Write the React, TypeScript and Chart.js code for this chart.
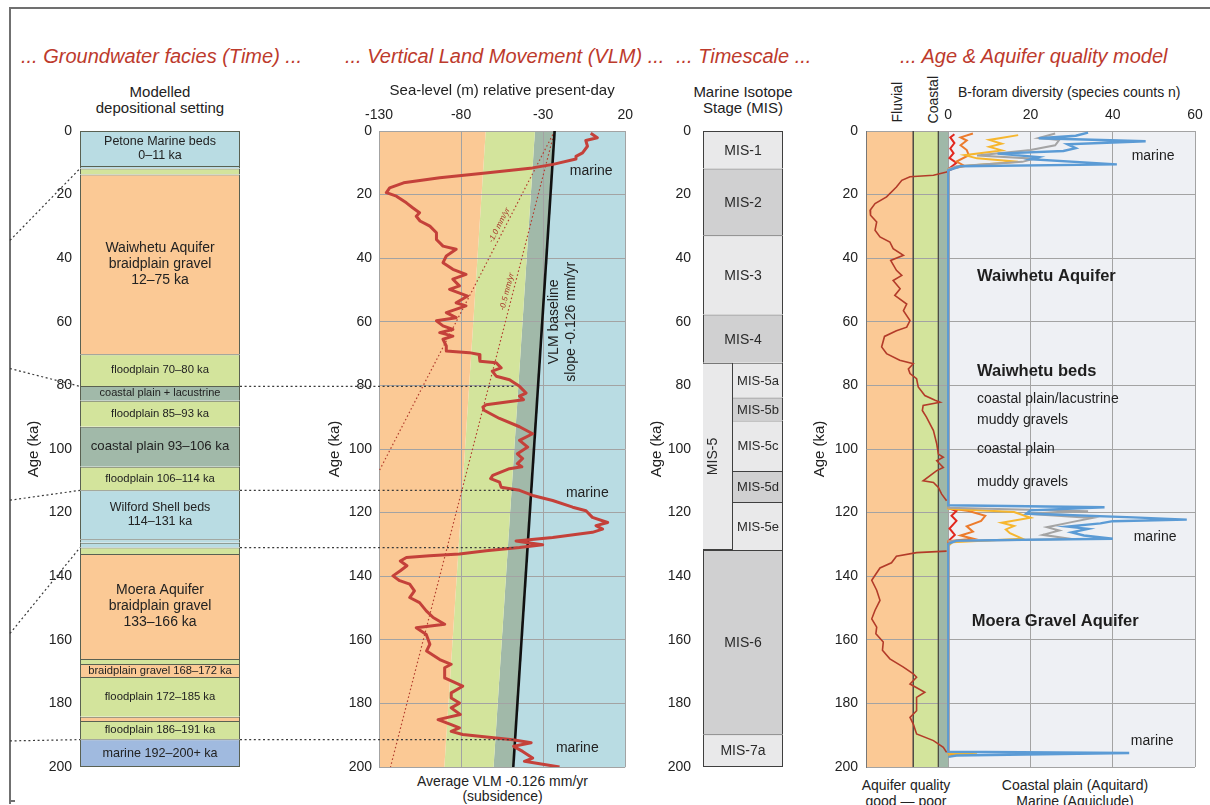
import React, { useEffect, useRef } from 'react';
import { Chart, registerables } from 'chart.js';

Chart.register(...registerables);

const FONT = "'Liberation Sans', Arial, Helvetica, sans-serif";
Chart.defaults.font.family = FONT;
Chart.defaults.color = '#222';

/* ============================ DATA ============================ */

// Panel 1 - modelled depositional setting (ka)
const faciesStart = [0, 11, 11.8, 13.7, 70.2, 80.2, 84.8, 93, 105.6, 113, 128.4, 129.5, 131, 133, 166, 167.6, 171.7, 184.2, 185.5, 191.3];
const faciesEnd = [11, 11.8, 13.7, 70.2, 80.2, 84.8, 93, 105.6, 113, 128.4, 129.5, 131, 133, 166, 167.6, 171.7, 184.2, 185.5, 191.3, 200];
const faciesType = ['shell', 'shell', 'floodplain', 'gravel', 'floodplain', 'coastal', 'floodplain', 'coastal', 'floodplain', 'shell', 'shell', 'shell', 'floodplain', 'gravel', 'floodplain', 'gravel', 'floodplain', 'gravel', 'floodplain', 'marine'];
const faciesLabels: string[][] = [
  ['Petone Marine beds', '0–11 ka'], [], [],
  ['Waiwhetu Aquifer', 'braidplain gravel', '12–75 ka'],
  ['floodplain 70–80 ka'], ['coastal plain + lacustrine'], ['floodplain 85–93 ka'],
  ['coastal plain 93–106 ka'], ['floodplain 106–114 ka'],
  ['Wilford Shell beds', '114–131 ka'], [], [], [],
  ['Moera Aquifer', 'braidplain gravel', '133–166 ka'], [],
  ['braidplain gravel 168–172 ka'], ['floodplain 172–185 ka'], [],
  ['floodplain 186–191 ka'], ['marine 192–200+ ka'],
];

// dotted correlation lines: age where they leave the frame / meet the column
const connectorFrameAge = [34.4, 74.7, 116.1, 158, 191.8];
const connectorColumnAge = [11.8, 80.3, 113, 131, 191.4];
const connectorToVLM = [false, true, true, true, true];

// Panel 2 - sea level (m) relative present-day vs age (ka)
const seaLevelRecord: [number, number][] = [
  [0.7, -1], [2.1, 3], [3, -4], [4.8, -3], [6.9, -6], [8, -10], [8.8, -10], [10.5, -24], [11.6, -36.5],
  [13.2, -65], [14.7, -93], [16.3, -115], [17.9, -123.5], [19.4, -125.5], [20.5, -119.4], [22.6, -113.3],
  [24.2, -109.3], [25.7, -105.3], [26.8, -107.3], [28.3, -105], [29.9, -99], [32, -95], [34.1, -95],
  [36.2, -91], [37.2, -83], [39.3, -89], [41.4, -91], [43.5, -85], [45.1, -77], [46.6, -85], [48.7, -81],
  [49.8, -87], [51.9, -76], [54, -83], [55, -77], [57.1, -89], [58.7, -83], [59.7, -95], [61.3, -91],
  [62.4, -85], [63.4, -93], [64.5, -85], [65.5, -91], [67.6, -89], [69.2, -89], [69.7, -75], [70.3, -69],
  [72.4, -68.5], [72.9, -58.6], [74.5, -55.6], [75.5, -61], [77.1, -58.6], [78.2, -50.5], [80.3, -44.4],
  [82.4, -40.4], [83.4, -44.4], [84.5, -42], [86.1, -64.7], [86.8, -66.7], [87.8, -66], [90.4, -56.6],
  [93, -44.4], [95.2, -36.4], [97.3, -44.4], [99.4, -39.4], [101.5, -45.7], [103, -42.5], [104.6, -45.7],
  [105.6, -43], [106.2, -50.5], [108.3, -60.7], [109.3, -62], [110.4, -56.6], [112, -55.6], [113, -44.4],
  [114.6, -36.4], [116.2, -24.2], [118.3, -12], [119.4, -3.9], [121.5, 0], [123.1, 9.3], [124.1, 2.2],
  [125.2, 6.2], [126.2, 0], [127.8, -24.2], [128.9, -46.5], [129.4, -40.4], [130.1, -30.3], [131, -44.4],
  [132, -64.7], [133, -81], [133.6, -99.2], [134.1, -113.3], [135.2, -117], [136.7, -113], [138.3, -117],
  [139.9, -121.5], [141.4, -117.4], [142.5, -111.3], [144.6, -108.4], [146.7, -111.3], [148.3, -105.3],
  [150.9, -101.2], [153, -97], [155.1, -90], [156.2, -107.3], [158.3, -101.2], [161.4, -99], [163.5, -101],
  [166.2, -93], [167.7, -86], [168.8, -90], [172, -90], [174.6, -79], [176.7, -86], [178.3, -86],
  [179.9, -81], [181.4, -86], [183.5, -80.5], [185.1, -94], [186.7, -86], [187.7, -81], [188.8, -86],
  [189.8, -79], [191.4, -48.5], [192.4, -37.3], [193.5, -48], [195.1, -42.5], [197.2, -36.4],
  [198.2, -41.4], [200, -20],
];
const edgeAges = [0, 200];
const fluvialEdge = [-65, -90.2];
const coastalEdge = [-35, -60.2];
const vlmBaseline = [-23, -48.2];
const vlmTicks = [-130, -80, -30, 20];
const rateNames = ['-1.0 mm/yr', '-0.5 mm/yr'];
const rate10Line: [number, number][] = [[0, -23], [107, -130]];
const rate05Line: [number, number][] = [[0, -23], [200, -123]];

// Panel 3 - Marine Isotope Stages (ka)
const misStages = ['MIS-1', 'MIS-2', 'MIS-3', 'MIS-4', 'MIS-5a', 'MIS-5b', 'MIS-5c', 'MIS-5d', 'MIS-5e', 'MIS-6', 'MIS-7a'];
const misStart = [0, 11.8, 32.8, 57.7, 72.9, 83.8, 91, 106.9, 116.7, 131.8, 189.7];
const misEnd = [11.8, 32.8, 57.7, 72.9, 83.8, 91, 106.9, 116.7, 131.8, 189.7, 200];
const misGlacial = [false, true, false, true, false, true, false, true, false, true, false];
const misSubstage = [false, false, false, false, true, true, true, true, true, false, false];
const mis5Range = [72.9, 131.8];

// Panel 4 - aquifer quality index and B-foram diversity
const qualityEdges = [-20, -8.5, -2.4, 0, 60];
const foramTicks = [0, 20, 40, 60];
const qualityRecord: [number, number | null][] = [
  [11.3, 2], [12.9, -0.4], [13.9, -3.6], [14.4, -9.3], [15.5, -11.3], [17.6, -12.6], [20.7, -15],
  [22.8, -17.8], [24.9, -19], [26.5, -18.9], [28.6, -17.4], [31.2, -17.8], [33.3, -16.6], [34.9, -14.2],
  [37, -13.4], [39.1, -10.9], [40.7, -14], [43.8, -12.6], [45.4, -11.3], [47, -13.4], [49.6, -11.7],
  [51.7, -13], [54.4, -10.1], [56.5, -10.9], [59.6, -9.3], [61.7, -10.1], [62.8, -12.6], [64.6, -15.5],
  [67.9, -16.2], [70, -15], [72.1, -11.8], [73.2, -8.5], [74.8, -9.7], [76.3, -9.3], [77.9, -7.7],
  [80.5, -7.3], [83.2, -5.7], [84.7, -3.2], [85.3, -2], [86.3, -6.1], [87.9, -6.3], [90, -5.3],
  [94.2, -3.6], [98.4, -2.8], [101.6, -2.4], [102.6, -1.2], [103.7, -2.8], [105.8, -1.2], [106.8, -2.8],
  [110, -6.1], [110.5, -3.6], [112.1, -2.4], [114.2, -1.6], [116.3, -0.4], [124, null], [132.1, -0.4],
  [132.6, -7.7], [133.7, -12.6], [135.8, -13.8], [137.4, -16.6], [140.5, -18.2], [141.3, -18.6],
  [144.4, -17.4], [147.6, -16.6], [150.7, -17.8], [153.4, -18.6], [156, -17.4], [158.1, -17.6],
  [160.7, -15.8], [163.3, -16], [166, -14.2], [168.6, -10.9], [170.7, -8.5], [171.8, -7.7], [173.9, -9.3],
  [176.5, -5.7], [178.1, -7.7], [182.3, -7.7], [184.4, -9.3], [186.5, -8.5], [189.6, -7.7], [191.7, -3.6],
  [193.8, -1.2], [195.4, -0.4],
];
const foramBlue: [number, number][] = [
  [0.5, 34], [1.5, 31], [2.3, 22], [3.2, 48], [4.2, 29], [5.4, 31], [6.3, 28], [7.1, 12], [8.2, 22],
  [8.9, 20], [10.5, 41], [11.1, 3], [12.4, 0], [117.7, 0], [118.3, 38], [119.3, 20], [120.3, 19],
  [121.5, 45], [122.2, 58], [122.7, 40], [123.4, 37], [124.4, 29], [125.1, 34], [126.2, 30], [127.2, 33],
  [128.2, 40], [128.8, 2], [129.8, 0], [195.2, 0], [195.6, 44], [196.4, 2], [196.8, 0],
];
const foramGray: [number, number][] = [
  [0.8, 26], [2.2, 22], [2.8, 27], [4.5, 26], [6, 20], [7.7, 7], [8.7, 21], [9.7, 18], [11.1, 2], [12, 0],
  [118.5, 0], [119.6, 34], [120.4, 19], [121.7, 35], [123, 30], [124.6, 24], [125.6, 27], [127, 23],
  [128.3, 30], [129, 0],
];
const foramYellow: [number, number][] = [
  [1.3, 17], [2.8, 10], [4, 13], [5, 10], [6.1, 13], [7.6, 4], [8.6, 7], [9.7, 17], [11.1, 3], [12, 0],
  [118.8, 0], [119.8, 16], [121.6, 20], [123.2, 13], [124.2, 16], [125.3, 14], [126.5, 15], [128.2, 18],
  [129.3, 1], [130.5, 0], [195.5, 0], [196, 7], [196.4, 0],
];
const foramOrange: [number, number][] = [
  [0.8, 6], [2, 3], [3, 4.5], [4.5, 3], [6, 4.5], [7.6, 5], [9.6, 2], [11, 4], [12, 0], [118.6, 0],
  [119.5, 5], [121, 9], [122.6, 8], [124.3, 4.5], [126, 6], [127.2, 3], [128.2, 6], [129, 0],
  [195.5, 0], [196, 2], [196.4, 0],
];
const foramRed: [number, number][] = [
  [1, 1.5], [2, 0.5], [3.8, 1.5], [5.5, 0.5], [7, 1.3], [8.5, 0.3], [10, 2], [11, 1], [12, 0],
  [118.6, 0], [119.5, 2], [121, 0.8], [122.6, 2], [125, 0.3], [127, 1.6], [128.5, 0.4], [129.5, 0],
  [195.5, 0],
];

const aquiferNotes = ['Waiwhetu Aquifer', 'Waiwhetu beds', 'coastal plain/lacustrine', 'muddy gravels', 'coastal plain', 'muddy gravels', 'Moera Gravel Aquifer'];
const aquiferNoteBold = [true, true, false, false, false, false, true];

/* ======================= LAYOUT & STYLE ======================= */

const W = 1210;
const H = 805;
const PLOT_TOP = 131;
const PLOT_BOTTOM = 767;
const FRAME_X = 10;
const CONNECTOR_END_X = 515;
const GRID = '#a3a3a3';
const TITLE_RED = '#bd3a2c';
const TEXT = '#222';

const FACIES_COLOR: Record<string, string> = {
  shell: '#b9dce3', floodplain: '#d3e49c', gravel: '#fbc995', coastal: '#a1b9a9', marine: '#a0badf',
};
const FACIES_EDGE = '#5a6152';
const faciesLabelSize = [12.5, 0, 0, 14, 11.3, 11, 11.3, 13.2, 11.3, 12.5, 0, 0, 0, 14, 0, 11.2, 11.3, 0, 11.3, 12.6];

const BAND_COLORS = ['#fbc995', '#d3e49c', '#a1b9a9', '#b9dce3'];
const QUALITY_COLORS = ['#fbc995', '#d3e49c', '#9fb8a8', '#eef0f4'];
const MIS_LIGHT = '#e9e9ea';
const MIS_DARK = '#d0d0d1';
const MIS_EDGE = '#3f3f3f';

// label anchors (data coordinates)
const vlmMarineAges = [12.7, 113.9, 194.1];
const vlmMarineLevels = [-0.7, -3.1, -9.2];
const baselineLabelAge = 60;
const rateLabelAges = [30.5, 51];
const aquiferNoteAges = [45.7, 75.5, 84.4, 91, 100.1, 110.4, 154.2];
const aquiferNoteX = [7, 7, 7, 7, 7, 7, 5.7];
const marineNoteAges = [8, 127.7, 191.8];
const marineNoteX = [49.8, 50.3, 49.6];

/* ========================== HELPERS ========================== */

function ageAxis(width: number, titlePad: number, tickPad: number, grid: boolean) {
  return {
    type: 'linear',
    reverse: true,
    min: 0,
    max: 200,
    position: 'left',
    ticks: { stepSize: 20, padding: tickPad, font: { size: 14 }, color: TEXT },
    grid: { display: grid, color: GRID, drawTicks: false, lineWidth: 1 },
    border: { display: grid, color: GRID },
    title: { display: true, text: 'Age (ka)', font: { size: 15 }, color: TEXT, padding: { top: titlePad, bottom: 0 } },
    afterFit: (s: any) => { s.width = width; },
  };
}

function lerp(a0: number, a1: number, v0: number, v1: number, a: number) {
  return v0 + ((v1 - v0) * (a - a0)) / (a1 - a0);
}

const basePlugins = { legend: { display: false }, tooltip: { enabled: false } };

/* ========================== PLUGINS ========================== */

const faciesPlugin = {
  id: 'faciesText',
  afterDatasetsDraw(chart: any) {
    const { ctx, chartArea: a, scales } = chart;
    const y = scales.y;
    const cx = (a.left + a.right) / 2;
    ctx.save();
    ctx.fillStyle = TEXT;
    ctx.textAlign = 'center';
    ctx.textBaseline = 'middle';
    faciesLabels.forEach((lines, i) => {
      if (!lines.length) return;
      const size = faciesLabelSize[i];
      const lh = size * 1.15;
      const mid = y.getPixelForValue((faciesStart[i] + faciesEnd[i]) / 2);
      ctx.font = `${size}px ${FONT}`;
      lines.forEach((t, k) => ctx.fillText(t, cx, mid + (k - (lines.length - 1) / 2) * lh));
    });
    ctx.strokeStyle = '#3a3a3a';
    ctx.lineWidth = 1.2;
    ctx.setLineDash([2, 2.6]);
    connectorColumnAge.forEach((age, i) => {
      const yc = y.getPixelForValue(age);
      const yf = y.getPixelForValue(connectorFrameAge[i]);
      ctx.beginPath();
      ctx.moveTo(FRAME_X, yf);
      ctx.lineTo(a.left, yc);
      ctx.stroke();
      if (connectorToVLM[i]) {
        ctx.beginPath();
        ctx.moveTo(a.right, yc);
        ctx.lineTo(CONNECTOR_END_X, yc);
        ctx.stroke();
      }
    });
    ctx.restore();
  },
};

const vlmTextPlugin = {
  id: 'vlmText',
  afterDatasetsDraw(chart: any) {
    const { ctx, scales } = chart;
    const x = scales.x;
    const y = scales.y;
    ctx.save();
    ctx.fillStyle = TEXT;
    ctx.font = `14px ${FONT}`;
    ctx.textAlign = 'center';
    ctx.textBaseline = 'middle';
    vlmMarineAges.forEach((age, i) => ctx.fillText('marine', x.getPixelForValue(vlmMarineLevels[i]), y.getPixelForValue(age)));

    const bv = lerp(edgeAges[0], edgeAges[1], vlmBaseline[0], vlmBaseline[1], baselineLabelAge);
    const bx = x.getPixelForValue(bv);
    const by = y.getPixelForValue(baselineLabelAge);
    ['VLM baseline', 'slope -0.126 mm/yr'].forEach((t, k) => {
      ctx.save();
      ctx.translate(bx + 12 + k * 17, by);
      ctx.rotate(-Math.PI / 2);
      ctx.fillText(t, 0, 0);
      ctx.restore();
    });

    ctx.fillStyle = '#a8392b';
    ctx.font = `italic 8px ${FONT}`;
    ctx.textBaseline = 'bottom';
    [rate10Line, rate05Line].forEach((line, i) => {
      const p0 = { x: x.getPixelForValue(line[0][1]), y: y.getPixelForValue(line[0][0]) };
      const p1 = { x: x.getPixelForValue(line[1][1]), y: y.getPixelForValue(line[1][0]) };
      const ang = Math.atan2(p0.y - p1.y, p0.x - p1.x);
      const t = (rateLabelAges[i] - line[0][0]) / (line[1][0] - line[0][0]);
      ctx.save();
      ctx.translate(p0.x + (p1.x - p0.x) * t, p0.y + (p1.y - p0.y) * t);
      ctx.rotate(ang);
      ctx.fillText(rateNames[i], 0, -2);
      ctx.restore();
    });
    ctx.restore();
  },
};

const misPlugin = {
  id: 'misText',
  afterDatasetsDraw(chart: any) {
    const { ctx, chartArea: a } = chart;
    const mis5 = chart.getDatasetMeta(misStages.length).data[0];
    const split = mis5.x + mis5.width / 2;
    ctx.save();
    ctx.fillStyle = '#2a2a2a';
    ctx.textAlign = 'center';
    ctx.textBaseline = 'middle';
    misStages.forEach((name, i) => {
      const bar = chart.getDatasetMeta(i).data[0];
      const cy = (bar.y + bar.base) / 2;
      const sub = misSubstage[i];
      const cx = sub ? (split + a.right) / 2 : (a.left + a.right) / 2;
      ctx.font = `${sub ? 13 : 14}px ${FONT}`;
      ctx.fillText(name, cx, cy + 1);
    });
    ctx.font = `14px ${FONT}`;
    ctx.translate(mis5.x, (mis5.y + mis5.base) / 2);
    ctx.rotate(-Math.PI / 2);
    ctx.fillText('MIS-5', 0, 0);
    ctx.restore();
  },
};

const aquiferTextPlugin = {
  id: 'aquiferText',
  afterDatasetsDraw(chart: any) {
    const { ctx, scales } = chart;
    const x = scales.x;
    const y = scales.y;
    ctx.save();
    ctx.fillStyle = '#1e1e1e';
    ctx.textBaseline = 'middle';
    ctx.textAlign = 'left';
    aquiferNotes.forEach((t, i) => {
      ctx.font = `${aquiferNoteBold[i] ? 'bold 16.5px' : '14px'} ${FONT}`;
      ctx.fillText(t, x.getPixelForValue(aquiferNoteX[i]), y.getPixelForValue(aquiferNoteAges[i]));
    });
    ctx.font = `14px ${FONT}`;
    ctx.textAlign = 'center';
    marineNoteAges.forEach((age, i) => ctx.fillText('marine', x.getPixelForValue(marineNoteX[i]), y.getPixelForValue(age)));
    ctx.restore();
  },
};

/* ========================== CONFIGS ========================== */

const P1_W = 540;
const P2_LEFT = 320;
const P2_W = 320;
const P3_LEFT = 640;
const P3_W = 160;
const P4_LEFT = 800;
const P4_W = 410;

function faciesConfig(): any {
  const last = faciesStart.length - 1;
  return {
    type: 'bar',
    data: {
      labels: ['Modelled depositional setting'],
      datasets: faciesStart.map((s, i) => ({
        label: faciesLabels[i].join(' ') || faciesType[i],
        data: [[s, faciesEnd[i]]],
        backgroundColor: FACIES_COLOR[faciesType[i]],
        borderColor: FACIES_EDGE,
        borderWidth: { top: 1, left: 1, right: 1, bottom: i === last ? 1 : 0 },
        borderSkipped: false,
        grouped: false,
        barPercentage: 1,
        categoryPercentage: 1,
        inflateAmount: 0,
      })),
    },
    options: {
      responsive: false,
      animation: false,
      devicePixelRatio: 1,
      layout: { padding: { left: 0, right: P1_W - 240, top: PLOT_TOP, bottom: H - PLOT_BOTTOM } },
      plugins: basePlugins,
      scales: { x: { display: false }, y: ageAxis(80, 25, 8, false) },
    },
    plugins: [faciesPlugin],
  };
}

function vlmConfig(): any {
  const edge = (vals: number[]) => edgeAges.map((a, i) => ({ x: vals[i], y: a }));
  const band = (label: string, vals: number[], fill: any, color: string) => ({
    label, data: edge(vals), fill, backgroundColor: color, borderColor: 'rgba(0,0,0,0)', borderWidth: 1, order: 10,
  });
  return {
    type: 'line',
    data: {
      datasets: [
        { label: 'Sea level', data: seaLevelRecord.map(([a, v]) => ({ x: v, y: a })), borderColor: '#c4413a', borderWidth: 3, fill: false, order: 1, borderJoinStyle: 'round' },
        { label: 'VLM baseline', data: edge(vlmBaseline), borderColor: '#111', borderWidth: 2.6, fill: false, order: 2 },
        { label: rateNames[0], data: rate10Line.map(([a, v]) => ({ x: v, y: a })), borderColor: '#b23d2e', borderWidth: 1.2, borderDash: [1.5, 2.5], fill: false, order: 3 },
        { label: rateNames[1], data: rate05Line.map(([a, v]) => ({ x: v, y: a })), borderColor: '#b23d2e', borderWidth: 1.2, borderDash: [1.5, 2.5], fill: false, order: 3 },
        band('Fluvial', fluvialEdge, { value: vlmTicks[0] }, BAND_COLORS[0]),
        band('Coastal', coastalEdge, '-1', BAND_COLORS[1]),
        band('Transition', vlmBaseline, '-1', BAND_COLORS[2]),
        band('Marine', vlmBaseline, { value: vlmTicks[vlmTicks.length - 1] }, BAND_COLORS[3]),
      ],
    },
    options: {
      indexAxis: 'y',
      responsive: false,
      animation: false,
      devicePixelRatio: 1,
      layout: { padding: { left: 0, right: 14, top: 70, bottom: H - PLOT_BOTTOM } },
      elements: { point: { radius: 0 }, line: { tension: 0 } },
      plugins: { ...basePlugins, filler: { drawTime: 'beforeDraw', propagate: false } },
      scales: {
        x: {
          type: 'linear', position: 'top', min: vlmTicks[0], max: vlmTicks[vlmTicks.length - 1],
          afterBuildTicks: (s: any) => { s.ticks = vlmTicks.map((v) => ({ value: v })); },
          ticks: { padding: 7, font: { size: 14 }, color: TEXT },
          grid: { color: GRID, drawTicks: false },
          border: { display: true, color: GRID },
          title: { display: true, text: 'Sea-level (m) relative present-day', font: { size: 15 }, color: TEXT, padding: { top: 12, bottom: 0 } },
          afterFit: (s: any) => { s.height = PLOT_TOP - 70; },
        },
        y: ageAxis(59, 6, 7, true),
      },
    },
    plugins: [vlmTextPlugin],
  };
}

function misConfig(): any {
  const last = misStages.length - 1;
  const common = { borderColor: MIS_EDGE, borderSkipped: false, grouped: false, barPercentage: 1, categoryPercentage: 1, inflateAmount: 0 };
  return {
    type: 'bar',
    data: {
      labels: ['Marine Isotope Stage'],
      datasets: [
        ...misStages.map((name, i) => ({
          ...common,
          label: name,
          data: [[misStart[i], misEnd[i]]],
          backgroundColor: misGlacial[i] ? MIS_DARK : MIS_LIGHT,
          borderWidth: { top: 1, left: 1, right: 1, bottom: i === last ? 1 : 0 },
          xAxisID: 'x',
          order: 2,
        })),
        { ...common, label: 'MIS-5', data: [[mis5Range[0], mis5Range[1]]], backgroundColor: MIS_LIGHT, borderWidth: 1, xAxisID: 'xs', order: 1 },
      ],
    },
    options: {
      responsive: false,
      animation: false,
      devicePixelRatio: 1,
      layout: { padding: { left: 0, right: 17, top: PLOT_TOP, bottom: H - PLOT_BOTTOM } },
      plugins: basePlugins,
      scales: {
        x: { display: false },
        xs: { type: 'category', labels: ['MIS-5', 's1', 's2', 's3'], display: false, offset: true },
        y: ageAxis(63, 8, 12, false),
      },
    },
    plugins: [misPlugin],
  };
}

function aquiferConfig(): any {
  const vert = (v: number) => edgeAges.map((a) => ({ x: v, y: a }));
  const bandNames = ['Fluvial', 'Coastal', 'Transition', 'Marine'];
  const bands = bandNames.map((name, i) => ({
    label: name,
    data: vert(qualityEdges[i + 1]),
    fill: { value: qualityEdges[i] },
    backgroundColor: QUALITY_COLORS[i],
    borderColor: i < 2 ? '#4d4d45' : 'rgba(0,0,0,0)',
    borderWidth: 1,
    order: 10,
  }));
  const foram = (label: string, rec: [number, number][], color: string, order: number, width = 2) => ({
    label, data: rec.map(([a, v]) => ({ x: v, y: a })), borderColor: color, borderWidth: width, fill: false, order,
  });
  return {
    type: 'line',
    data: {
      datasets: [
        ...bands,
        { label: 'Aquifer quality', data: qualityRecord.map(([a, v]) => ({ x: v, y: a })), borderColor: '#b33b29', borderWidth: 1.6, fill: false, order: 7, spanGaps: false },
        foram('B-foram red', foramRed, '#e2281f', 5),
        foram('B-foram orange', foramOrange, '#ec7b2c', 4),
        foram('B-foram yellow', foramYellow, '#f6b62e', 3),
        foram('B-foram grey', foramGray, '#a4a4a4', 2),
        foram('B-foram blue', foramBlue, '#5b9bd5', 1, 2.4),
      ],
    },
    options: {
      indexAxis: 'y',
      responsive: false,
      animation: false,
      devicePixelRatio: 1,
      layout: { padding: { left: 0, right: 15, top: 70, bottom: H - PLOT_BOTTOM } },
      elements: { point: { radius: 0 }, line: { tension: 0 } },
      plugins: { ...basePlugins, filler: { drawTime: 'beforeDraw', propagate: false } },
      scales: {
        x: {
          type: 'linear', position: 'top', min: qualityEdges[0], max: qualityEdges[qualityEdges.length - 1],
          afterBuildTicks: (s: any) => { s.ticks = foramTicks.map((v) => ({ value: v })); },
          ticks: { padding: 7, font: { size: 14 }, color: TEXT },
          grid: { color: GRID, drawTicks: false },
          border: { display: false },
          afterFit: (s: any) => { s.height = PLOT_TOP - 70; },
        },
        y: { ...ageAxis(66, 11, 8, true), border: { display: true, color: '#777' } },
      },
    },
    plugins: [aquiferTextPlugin],
  };
}

/* ========================== COMPONENT ========================== */

const abs = (s: any) => ({ position: 'absolute', ...s });

export default function App() {
  const c1 = useRef<HTMLCanvasElement>(null);
  const c2 = useRef<HTMLCanvasElement>(null);
  const c3 = useRef<HTMLCanvasElement>(null);
  const c4 = useRef<HTMLCanvasElement>(null);

  useEffect(() => {
    const charts = [
      new Chart(c2.current as HTMLCanvasElement, vlmConfig()),
      new Chart(c1.current as HTMLCanvasElement, faciesConfig()),
      new Chart(c3.current as HTMLCanvasElement, misConfig()),
      new Chart(c4.current as HTMLCanvasElement, aquiferConfig()),
    ];
    return () => charts.forEach((c) => c.destroy());
  }, []);

  const title = (text: string, left: number) => (
    <div style={abs({ left, top: 45, fontSize: 20, lineHeight: '23px', fontStyle: 'italic', color: TITLE_RED, whiteSpace: 'nowrap' })}>{text}</div>
  );
  const centered = (lines: string[], cx: number, top: number, size: number, lh: number) => (
    <div style={abs({ left: cx - 150, width: 300, top, fontSize: size, lineHeight: `${lh}px`, textAlign: 'center', color: TEXT, whiteSpace: 'nowrap' })}>
      {lines.map((l) => <div key={l}>{l}</div>)}
    </div>
  );
  const vertical = (text: string, cx: number, bottom: number) => (
    <div style={abs({ left: cx - 8, bottom: H - bottom, fontSize: 14, lineHeight: '16px', writingMode: 'vertical-rl', transform: 'rotate(180deg)', color: TEXT, whiteSpace: 'nowrap' })}>{text}</div>
  );

  return (
    <div style={{ position: 'fixed', left: 0, top: 0, width: W, height: H, background: '#fff', overflow: 'hidden', fontFamily: FONT, color: TEXT }}>
      <div style={abs({ left: 9, top: 7, width: W - 9, height: 795, borderLeft: '2px solid #707070', borderTop: '2px solid #707070' })} />
      <div style={abs({ left: 9, top: 800, width: 6, height: 2, background: '#707070' })} />

      {title('... Groundwater facies (Time) ...', 21)}
      {title('... Vertical Land Movement (VLM) ...', 345)}
      {title('... Timescale ...', 676)}
      {title('... Age & Aquifer quality model', 900)}

      {centered(['Modelled', 'depositional setting'], 160, 83.5, 15, 16)}
      {centered(['Marine Isotope', 'Stage (MIS)'], 743, 83.5, 15, 16)}
      {centered(['Average VLM -0.126 mm/yr', '(subsidence)'], 502.5, 774, 14, 15)}
      {centered(['Aquifer quality', 'good — poor'], 906, 776.5, 14, 16)}
      {centered(['Coastal plain (Aquitard)', 'Marine (Aquiclude)'], 1075, 776.5, 14, 16)}

      <div style={abs({ left: 958, top: 84, fontSize: 14, lineHeight: '16px', color: TEXT, whiteSpace: 'nowrap' })}>B-foram diversity (species counts n)</div>
      {vertical('Fluvial', 897, 122)}
      {vertical('Coastal', 933, 123)}

      <canvas ref={c2} width={P2_W} height={H} style={abs({ left: P2_LEFT, top: 0, zIndex: 1 })} />
      <canvas ref={c1} width={P1_W} height={H} style={abs({ left: 0, top: 0, zIndex: 2 })} />
      <canvas ref={c3} width={P3_W} height={H} style={abs({ left: P3_LEFT, top: 0, zIndex: 1 })} />
      <canvas ref={c4} width={P4_W} height={H} style={abs({ left: P4_LEFT, top: 0, zIndex: 1 })} />
    </div>
  );
}
